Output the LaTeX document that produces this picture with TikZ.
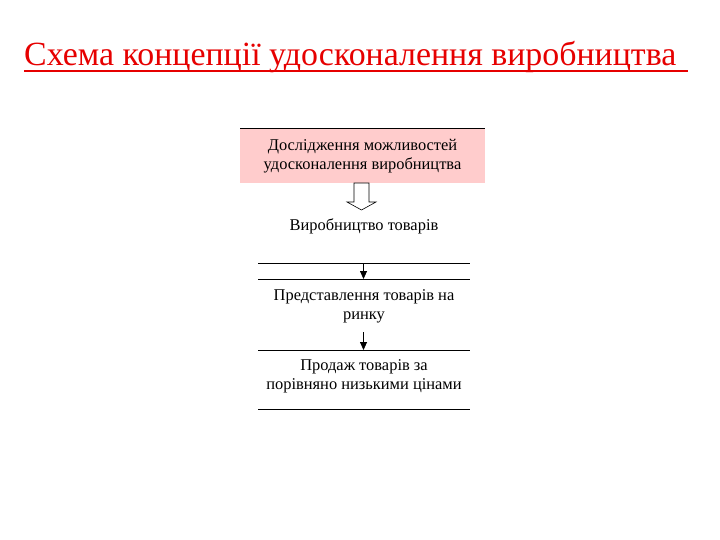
\documentclass[tikz,border=0pt]{standalone}
\usepackage{fontspec}
\setmainfont{Liberation Serif}
\usetikzlibrary{arrows.meta}
\definecolor{titlered}{RGB}{230,0,0}
\definecolor{boxpink}{RGB}{255,204,204}
\tikzset{
  txt/.style={font=\fontsize{16.5}{19}\selectfont, align=center, inner sep=0pt},
  rule/.style={line width=0.8bp, black},
  solidarrow/.style={line width=0.8bp, -{Triangle[length=8bp,width=7bp]}},
}
\begin{document}
\begin{tikzpicture}[x=1bp,y=-1bp]
\useasboundingbox (0,0) rectangle (720,540);
% title
\node[anchor=base west, inner sep=0pt, text=titlered, font=\fontsize{34}{40}\selectfont] (title) at (24,66)
  {Схема концепції удосконалення виробництва};
\draw[titlered, line width=2bp] ([yshift=-5bp]title.base west) -- ++(664,0);
% pink box
\fill[boxpink] (240,129) rectangle (485,183);
\draw[rule] (240,128.5) -- (485,128.5);
\node[txt] (b1) at (362.5,156) {Дослідження можливостей\\удосконалення виробництва};
% hollow arrow
\draw[line width=0.6bp, black, fill=white] (354,183) -- (369,183) -- (369,202) -- (376,202) -- (361.5,210) -- (347,202) -- (354,202) -- cycle;
\node[txt] (b2) at (364,226) {Виробництво товарів};
% lines
\coordinate (l1a) at (258,263); \coordinate (l1b) at (470,263);
\coordinate (l2a) at (258,279); \coordinate (l2b) at (470,279);
\coordinate (l3a) at (258,350); \coordinate (l3b) at (470,350);
\coordinate (l4a) at (258,409); \coordinate (l4b) at (470,409);
\draw[rule] (l1a) -- (l1b);
\draw[rule] (l2a) -- (l2b);
\draw[rule] (l3a) -- (l3b);
\draw[rule] (l4a) -- (l4b);
\coordinate (a1s) at (363.5,263); \coordinate (a1e) at (363.5,279);
\draw[solidarrow] (a1s) -- (a1e);
\node[txt] (b3) at (364,306) {Представлення товарів на\\ринку};
\coordinate (a2s) at (363.5,332); \coordinate (a2e) at (363.5,350);
\draw[solidarrow] (a2s) -- (a2e);
\node[txt] (b4) at (364,376) {Продаж товарів за\\порівняно низькими цінами};
\end{tikzpicture}
\end{document}
